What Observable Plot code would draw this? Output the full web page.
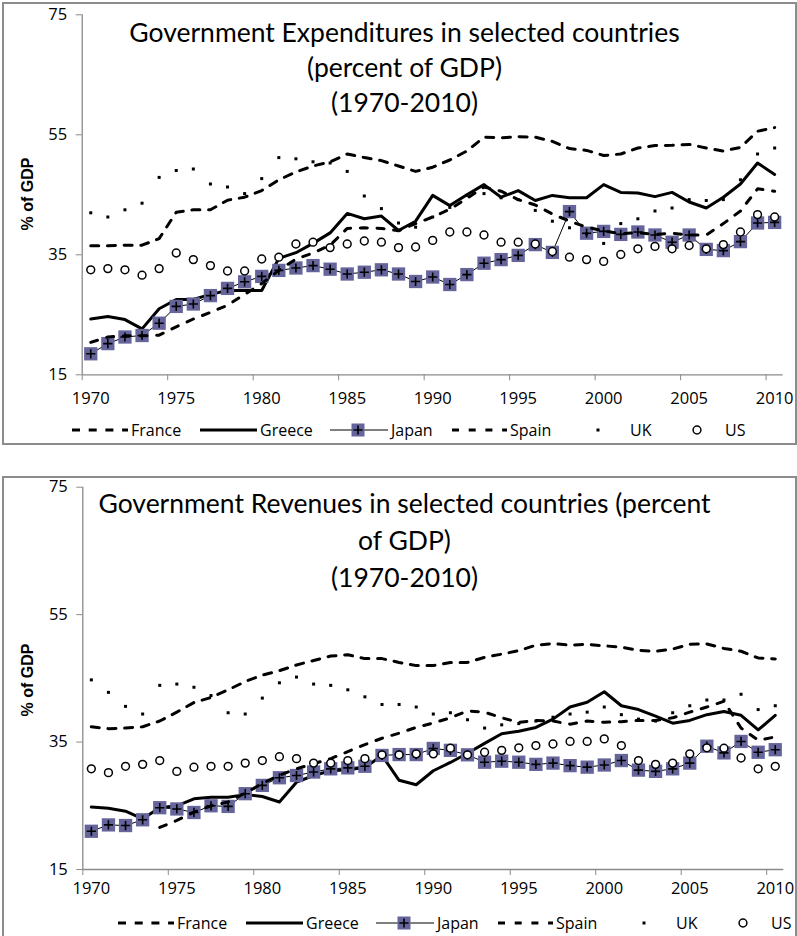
<!DOCTYPE html>
<html>
<head>
<meta charset="utf-8">
<script src="https://cdn.jsdelivr.net/npm/d3@7"></script>
<script src="https://cdn.jsdelivr.net/npm/@observablehq/plot@0.6"></script>
<style>
  html, body { margin: 0; padding: 0; background: #fff; }
  body { width: 797px; height: 936px; overflow: hidden; position: relative; font-family: "Open Sans", sans-serif; }
  .panel { position: absolute; left: 2px; width: 795px; border: 2px solid #8c8c8c; box-sizing: border-box; }
  .plotwrap { position: absolute; left: 0; }
  #overlay { position: absolute; left: 0; top: 0; pointer-events: none; }
</style>
</head>
<body>
<div class="panel" style="top:2px;height:443px"></div>
<div class="panel" style="top:476px;height:470px"></div>
<div class="plotwrap" id="p1" style="top:0px"></div>
<div class="plotwrap" id="p2" style="top:476px"></div>
<svg id="overlay" width="797" height="936"></svg>
<script>
// ---------- data ----------
const years = [1970,1971,1972,1973,1974,1975,1976,1977,1978,1979,1980,1981,1982,1983,1984,1985,1986,1987,1988,1989,1990,1991,1992,1993,1994,1995,1996,1997,1998,1999,2000,2001,2002,2003,2004,2005,2006,2007,2008,2009,2010];
const labelYears = [1970,1975,1980,1985,1990,1995,2000,2005,2010];
const yTicks = [15,35,55,75];
const countries = ["France","Greece","Japan","Spain","UK","US"];

// Government expenditures (% of GDP)
const expFrance = [36.5,36.5,36.6,36.6,37.7,42.1,42.5,42.5,44.1,44.6, 45.7,47.5,48.8,49.8,50.5,51.8,51.2,50.7,49.8,48.9, 49.6,50.8,52.3,54.6,54.5,54.7,54.6,53.9,52.7,52.4, 51.55,51.8,52.8,53.2,53.25,53.4,52.8,52.3,52.9,55.6,56.2];
const expGreece = [24.3,24.7,24.2,22.65,26.0,27.55,27.55,28.4,29.05,29.05, 29.05,34.4,35.35,36.9,38.65,41.9,41.0,41.45,39.05,40.6, 44.9,43.2,45.0,46.7,44.6,45.7,44.05,44.9,44.5,44.5, 46.7,45.4,45.3,44.7,45.4,43.8,42.8,44.6,46.8,50.3,48.4];
const expJapan  = [18.5,20.2,21.3,21.55,23.6,26.4,26.8,28.2,29.4,30.5, 31.4,32.4,32.8,33.2,32.6,31.8,32.1,32.5,31.8,30.55, 31.3,30.05,31.7,33.6,34.2,34.9,36.7,35.4,42.2,38.6, 38.9,38.4,38.8,38.3,37.1,38.3,35.9,35.7,37.2,40.3,40.4];
const expSpain  = [20.4,21.3,21.5,21.5,21.6,23.0,24.3,25.4,26.6,28.4, 30.2,32.4,34.3,35.3,36.6,39.4,39.5,39.4,39.0,40.2, 41.3,42.6,44.4,46.3,45.6,44.2,43.3,41.8,40.6,39.6, 39.0,38.5,38.7,38.4,38.6,38.3,38.3,40.2,42.3,46.0,45.6];
const expUK     = [42.0,41.3,42.5,43.6,47.9,49.05,49.3,46.8,46.3,45.2, 47.7,51.2,51.0,50.5,50.3,48.9,44.8,42.7,40.3,39.6, 41.3,42.9,44.9,45.2,44.5,44.2,42.4,40.6,39.5,38.5, 36.9,40.2,41.0,42.3,42.8,44.2,44.05,44.2,47.5,51.8,52.8];
const expUS     = [32.5,32.7,32.5,31.6,32.7,35.3,34.2,33.2,32.3,32.3, 34.3,34.6,36.8,37.1,36.2,36.8,37.3,37.1,36.2,36.3, 37.4,38.8,38.8,38.3,37.1,37.1,36.8,35.55,34.6,34.2, 33.9,35.05,36.0,36.4,36.0,36.55,36.0,36.7,38.8,41.7,41.3];

// Government revenues (% of GDP)
const revFrance = [37.4,37.1,37.2,37.4,38.3,39.7,41.2,42.0,43.2,44.5, 45.5,46.2,47.1,47.8,48.5,48.7,48.1,48.1,47.5,47.0, 47.0,47.5,47.5,48.3,48.8,49.35,50.2,50.45,50.2,50.35, 50.1,49.9,49.4,49.25,49.6,50.35,50.4,49.7,49.25,48.2,48.05];
const revGreece = [24.8,24.6,24.15,22.95,24.7,25.0,26.1,26.35,26.35,26.75, 26.45,25.6,28.7,29.75,30.5,30.64,31.0,32.9,29.0,28.3, 30.5,31.8,33.25,34.8,36.3,36.7,37.3,38.6,40.5,41.25, 42.9,40.7,40.1,39.06,37.96,38.4,39.3,39.8,39.2,36.9,39.2];
const revJapan  = [21.0,22.0,21.9,22.8,24.7,24.5,23.95,25.0,24.9,26.9, 28.2,29.4,29.75,30.3,30.8,30.95,31.2,32.9,33.04,33.04, 34.0,33.7,33.0,31.84,32.0,31.84,31.5,31.7,31.3,31.06, 31.4,32.1,30.6,30.4,30.8,31.7,34.35,33.3,35.1,33.4,33.8];
const revSpain  = [null,null,null,null,21.6,22.7,24.0,25.0,25.6,27.0, 28.5,29.8,30.8,31.6,32.4,33.5,34.6,35.6,36.4,37.3, 38.0,38.8,39.9,39.7,38.8,38.1,38.4,38.3,37.8,38.3, 38.1,38.2,38.4,38.4,38.8,39.7,40.5,41.4,37.2,35.3,35.8];
const revUK     = [44.76,42.8,40.6,39.4,43.9,44.1,43.6,42.3,39.6,39.4, 41.9,44.3,45.2,44.1,43.9,43.2,42.1,40.9,40.9,40.5, 39.4,39.6,38.5,37.2,37.7,37.9,38.3,38.9,39.4,39.7, 40.5,39.3,38.6,38.3,39.6,40.7,41.6,41.6,42.5,40.1,40.7];
const revUS     = [30.8,30.2,31.2,31.5,32.1,30.4,31.06,31.2,31.2,31.7, 32.1,32.7,32.4,31.7,31.7,32.1,32.4,33.0,33.0,33.15, 33.15,34.04,33.0,33.4,33.7,34.1,34.45,34.7,35.1,35.1, 35.5,34.45,32.1,31.5,31.7,33.15,34.1,34.04,32.5,30.8,31.2];

const titleExp = ["Government Expenditures in selected countries", "(percent of GDP)", "(1970-2010)"];
const titleRev = ["Government Revenues in selected countries (percent", "of GDP)", "(1970-2010)"];
const yLabel = "% of GDP";

// ---------- styles ----------
const GRAY = "#8a8a8a";
const JAPAN_FILL = "#65659c";
const DASH_FR = "8,8.7";
const DASH_ES = "7,9.7";
const plusSymbol = { draw(ctx, size) { const r = Math.sqrt(size / Math.PI); ctx.moveTo(-r, 0); ctx.lineTo(r, 0); ctx.moveTo(0, -r); ctx.lineTo(0, r); } };
const boundaries = labelYears.map(y => y - 0.5);

function rows(vals) { return years.map((year, i) => ({ year, value: vals[i] })); }

function makePlot(series, cfg) {
  const [fr, gr, jp, es, uk, us] = series.map(rows);
  return Plot.plot({
    width: 797,
    height: cfg.height,
    marginLeft: cfg.mL, marginRight: cfg.mR, marginTop: cfg.mT, marginBottom: cfg.mB,
    style: { fontFamily: "Open Sans, sans-serif", fontSize: "16px", background: "transparent", overflow: "visible" },
    x: { domain: [1969.5, 2010.5] },
    y: { domain: [15, 75] },
    marks: [
      Plot.ruleY([15], { stroke: GRAY, strokeWidth: 1.3 }),
      Plot.ruleX([1969.5], { stroke: GRAY, strokeWidth: 1.3 }),
      Plot.axisY({ ticks: yTicks, tickSize: 6, tickPadding: 9, stroke: GRAY, fill: "black", fontSize: 16.5, label: null }),
      Plot.axisX({ ticks: boundaries, tickSize: 6, tickFormat: () => "", stroke: GRAY, label: null }),
      Plot.axisX({ ticks: labelYears, tickSize: 0, tickPadding: cfg.xPad, fill: "black", fontSize: 16.5, tickFormat: d => String(d), label: null }),
      Plot.line(fr, { x: "year", y: "value", stroke: "black", strokeWidth: 3, strokeDasharray: DASH_FR }),
      Plot.line(gr, { x: "year", y: "value", stroke: "black", strokeWidth: 3 }),
      Plot.line(jp, { x: "year", y: "value", stroke: "black", strokeWidth: 1 }),
      Plot.dot(jp, { x: "year", y: "value", symbol: "square", r: 7.5, fill: JAPAN_FILL }),
      Plot.dot(jp, { x: "year", y: "value", symbol: plusSymbol, r: 4.6, stroke: "black", strokeWidth: 1.6, fill: "none" }),
      Plot.line(es, { x: "year", y: "value", stroke: "black", strokeWidth: 3, strokeDasharray: DASH_ES }),
      Plot.dot(uk, { x: "year", y: "value", symbol: "square", r: 1.7, fill: "black" }),
      Plot.dot(us, { x: "year", y: "value", r: 3.9, fill: "white", stroke: "black", strokeWidth: 1.5 })
    ]
  });
}

document.getElementById("p1").append(makePlot(
  [expFrance, expGreece, expJapan, expSpain, expUK, expUS],
  { height: 445, mL: 81.7, mR: 14.3, mT: 14.3, mB: 70.7, xPad: 17 }
));
document.getElementById("p2").append(makePlot(
  [revFrance, revGreece, revJapan, revSpain, revUK, revUS],
  { height: 460, mL: 82.3, mR: 13.7, mT: 10.7, mB: 67, xPad: 13 }
));

// ---------- titles, axis labels, legends ----------
const ov = d3.select("#overlay");

function title(lines, baselines) {
  lines.forEach((t, i) => {
    ov.append("text").attr("x", 404.5).attr("y", baselines[i]).attr("text-anchor", "middle")
      .attr("font-family", "Lato, sans-serif").attr("font-size", 26.5).attr("fill", "black").text(t);
  });
}
title(titleExp, [41.5, 76.5, 111.5]);
title(titleRev, [513, 550, 587]);

function ylab(cy) {
  ov.append("text").attr("transform", `translate(33,${cy}) rotate(-90)`).attr("text-anchor", "middle")
    .attr("font-family", "Liberation Sans, Arial, sans-serif").attr("font-weight", "bold").attr("font-size", 16)
    .attr("fill", "black").text(yLabel);
}
ylab(194);
ylab(680);

function legend(y, dx) {
  const g = ov.append("g").attr("transform", `translate(${dx},${y})`);
  const txt = (x, t) => g.append("text").attr("x", x).attr("y", 5.5).attr("font-family", "Open Sans, sans-serif")
    .attr("font-size", 16).attr("fill", "black").text(t);
  // France
  g.append("line").attr("x1", 72).attr("x2", 128).attr("stroke", "black").attr("stroke-width", 3).attr("stroke-dasharray", DASH_FR);
  txt(131, countries[0]);
  // Greece
  g.append("line").attr("x1", 200).attr("x2", 257).attr("stroke", "black").attr("stroke-width", 3);
  txt(260, countries[1]);
  // Japan
  g.append("line").attr("x1", 330).attr("x2", 388).attr("stroke", "black").attr("stroke-width", 1);
  g.append("rect").attr("x", 358 - 6.5).attr("y", -6.5).attr("width", 13).attr("height", 13).attr("fill", JAPAN_FILL);
  g.append("path").attr("d", "M353.4,0H362.6M358,-4.6V4.6").attr("stroke", "black").attr("stroke-width", 1.6);
  txt(391, countries[2]);
  // Spain
  g.append("line").attr("x1", 452).attr("x2", 507).attr("stroke", "black").attr("stroke-width", 3).attr("stroke-dasharray", DASH_ES);
  txt(510, countries[3]);
  // UK
  g.append("rect").attr("x", 596.5).attr("y", -1.5).attr("width", 3).attr("height", 3).attr("fill", "black");
  txt(630, countries[4]);
  // US
  g.append("circle").attr("cx", 697).attr("cy", 0).attr("r", 3.9).attr("fill", "white").attr("stroke", "black").attr("stroke-width", 1.5);
  txt(725, countries[5]);
}
legend(430, 0);
legend(923, 46);
</script>
</body>
</html>
